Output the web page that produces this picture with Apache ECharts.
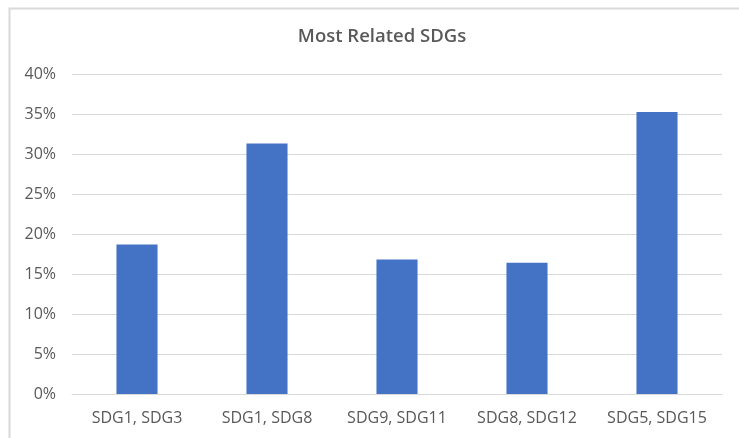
<!DOCTYPE html>
<html>
<head>
<meta charset="utf-8">
<script src="https://cdn.jsdelivr.net/npm/echarts@6/dist/echarts.min.js"></script>
<style>
  html, body { margin: 0; padding: 0; background: #fff; }
  #chart { width: 739px; height: 438px; }
</style>
</head>
<body>
<div id="chart"></div>
<script>
// Pairs of SDGs and the share of items related to each pair
const categories = ['SDG1, SDG3', 'SDG1, SDG8', 'SDG9, SDG11', 'SDG8, SDG12', 'SDG5, SDG15'];
const shares = [0.187, 0.313, 0.168, 0.164, 0.3525];
const titleText = 'Most Related SDGs';

const FONT = '"Open Sans", "Liberation Sans", sans-serif';
const chart = echarts.init(document.getElementById('chart'), null, { renderer: 'canvas' });

chart.setOption({
  animation: false,
  backgroundColor: '#ffffff',
  title: {
    text: titleText,
    left: 377,
    textAlign: 'center',
    top: 22,
    textStyle: { fontFamily: FONT, fontSize: 18.5, fontWeight: 600, color: '#595959' }
  },
  graphic: [{
    type: 'rect',
    shape: { x: 9.5, y: 8.5, width: 800, height: 500 },
    style: { fill: 'none', stroke: '#d9d9d9', lineWidth: 2 },
    silent: true
  }],
  grid: { left: 72, right: 17, top: 74, bottom: 44 },
  xAxis: {
    type: 'category',
    data: categories,
    axisTick: { show: false },
    axisLine: { lineStyle: { color: '#d9d9d9', width: 1 } },
    axisLabel: { fontFamily: FONT, fontSize: 16, color: '#595959', margin: 16 }
  },
  yAxis: {
    type: 'value',
    min: 0,
    max: 0.4,
    interval: 0.05,
    axisLine: { show: false },
    axisTick: { show: false },
    splitLine: { lineStyle: { color: '#d9d9d9', width: 1 } },
    axisLabel: {
      fontFamily: FONT, fontSize: 16, color: '#595959', margin: 16,
      formatter: v => Math.round(v * 100) + '%'
    }
  },
  series: [{
    type: 'bar',
    data: shares,
    barWidth: '31.6%',
    itemStyle: { color: '#4472c4' }
  }]
});
</script>
</body>
</html>
